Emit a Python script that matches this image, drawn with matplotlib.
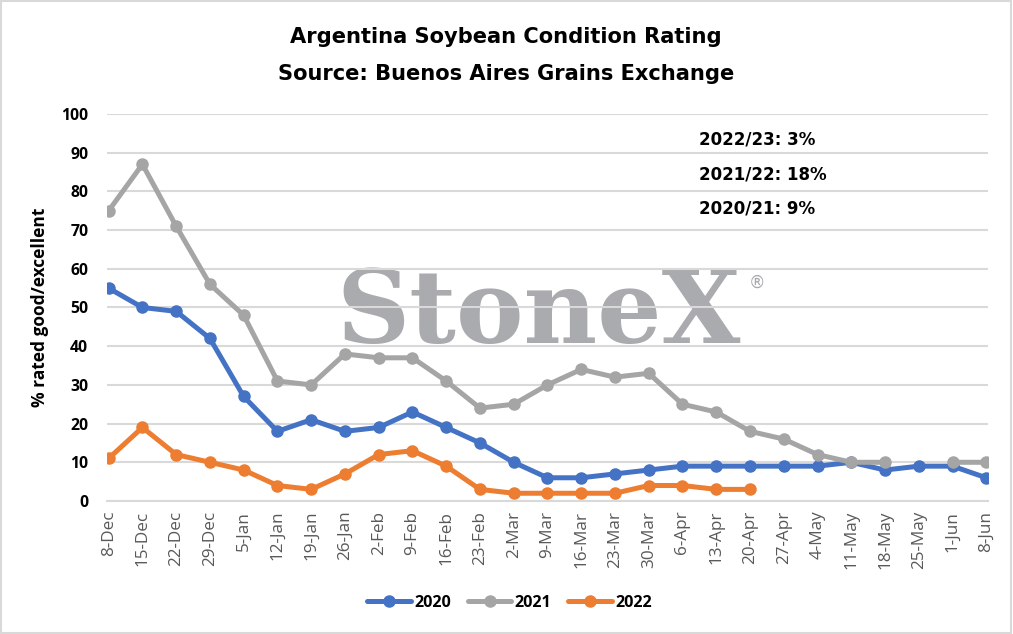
import numpy as np
import matplotlib
matplotlib.use("Agg")
import matplotlib.pyplot as plt
from matplotlib.patches import Rectangle

categories = ["8-Dec", "15-Dec", "22-Dec", "29-Dec", "5-Jan", "12-Jan", "19-Jan", "26-Jan",
              "2-Feb", "9-Feb", "16-Feb", "23-Feb", "2-Mar", "9-Mar", "16-Mar", "23-Mar",
              "30-Mar", "6-Apr", "13-Apr", "20-Apr", "27-Apr", "4-May", "11-May", "18-May",
              "25-May", "1-Jun", "8-Jun"]
s2020 = [55, 50, 49, 42, 27, 18, 21, 18, 19, 23, 19, 15, 10, 6, 6, 7, 8, 9, 9, 9, 9, 9, 10, 8, 9, 9, 6]
s2021 = [75, 87, 71, 56, 48, 31, 30, 38, 37, 37, 31, 24, 25, 30, 34, 32, 33, 25, 23, 18, 16, 12, 10, 10,
         np.nan, 10, 10]
s2022 = [11, 19, 12, 10, 8, 4, 3, 7, 12, 13, 9, 3, 2, 2, 2, 2, 4, 4, 3, 3] + [np.nan] * 7
series_names = ["2020", "2021", "2022"]
notes = ["2022/23: 3%", "2021/22: 18%", "2020/21: 9%"]
yticks = list(range(0, 101, 10))

colors = ["#4472C4", "#A5A5A5", "#ED7D31"]

plt.rcParams['font.family'] = ['Open Sans', 'DejaVu Sans']

fig = plt.figure(figsize=(10.13, 6.34), dpi=100)
fig.patches.append(Rectangle((0.001, 0.002), 0.997, 0.996, transform=fig.transFigure,
                             fill=False, edgecolor="#D9D9D9", linewidth=1.5))
ax = fig.add_axes([0.1056, 0.2098, 0.8697, 0.6104])

x = np.arange(len(categories))
for name, vals, c in zip(series_names, [s2020, s2021, s2022], colors):
    ax.plot(x, vals, color=c, linewidth=3.6, marker='o', markersize=8, label=name, zorder=3,
            solid_capstyle='round')

ax.set_xlim(-0.05, len(categories) - 1 + 0.05)
ax.set_ylim(0, 100)
ax.set_yticks(yticks)
ax.set_yticklabels([str(v) for v in yticks], fontsize=11.3, fontweight='bold', color='black')
ax.set_xticks(x)
ax.set_xticklabels(categories, rotation=90, fontsize=12.3, color='#595959')
ax.tick_params(axis='x', length=0, pad=7)
ax.tick_params(axis='y', length=0, pad=13.5)
ax.grid(axis='y', color='#D9D9D9', linewidth=1.5, zorder=1)
for sp in ax.spines.values():
    sp.set_visible(False)
ax.spines['bottom'].set_visible(True)
ax.spines['bottom'].set_color('#D9D9D9')
ax.spines['bottom'].set_linewidth(1.5)

ax.set_ylabel("% rated good/excellent", fontsize=12.5, fontweight='bold', va='center')
ax.yaxis.set_label_coords(-0.0755, 0.5)

# watermark
ax.text(12.74, 40.8, "StoneX", ha='center', va='baseline',
        fontsize=73, family='DejaVu Serif', fontweight='bold', color='#A9ABAE', zorder=0.5)
ax.text(19.2, 56.3, "®", ha='center', va='center',
        fontsize=12, family='DejaVu Sans', color='#A6A8AB', zorder=0.5)

for t, yv in zip(notes, [92.0, 83.1, 74.2]):
    ax.text(17.5, yv, t, fontsize=12, family='DejaVu Sans', fontweight='bold',
            color='black', va='baseline', ha='left')

fig.text(0.4995, 1 - 43 / 634, "Argentina Soybean Condition Rating", ha='center', va='baseline',
         fontsize=15.1, family='DejaVu Sans', fontweight='bold')
fig.text(0.4995, 1 - 80 / 634, "Source: Buenos Aires Grains Exchange", ha='center', va='baseline',
         fontsize=15.1, family='DejaVu Sans', fontweight='bold')

leg = fig.legend(loc='center', bbox_to_anchor=(0.503, 1 - 603 / 634), ncol=3, frameon=False,
                 prop={'weight': 'bold', 'size': 11.6}, handlelength=2.7, columnspacing=1.05,
                 handletextpad=0.2)

fig.savefig("out.png", dpi=100)
